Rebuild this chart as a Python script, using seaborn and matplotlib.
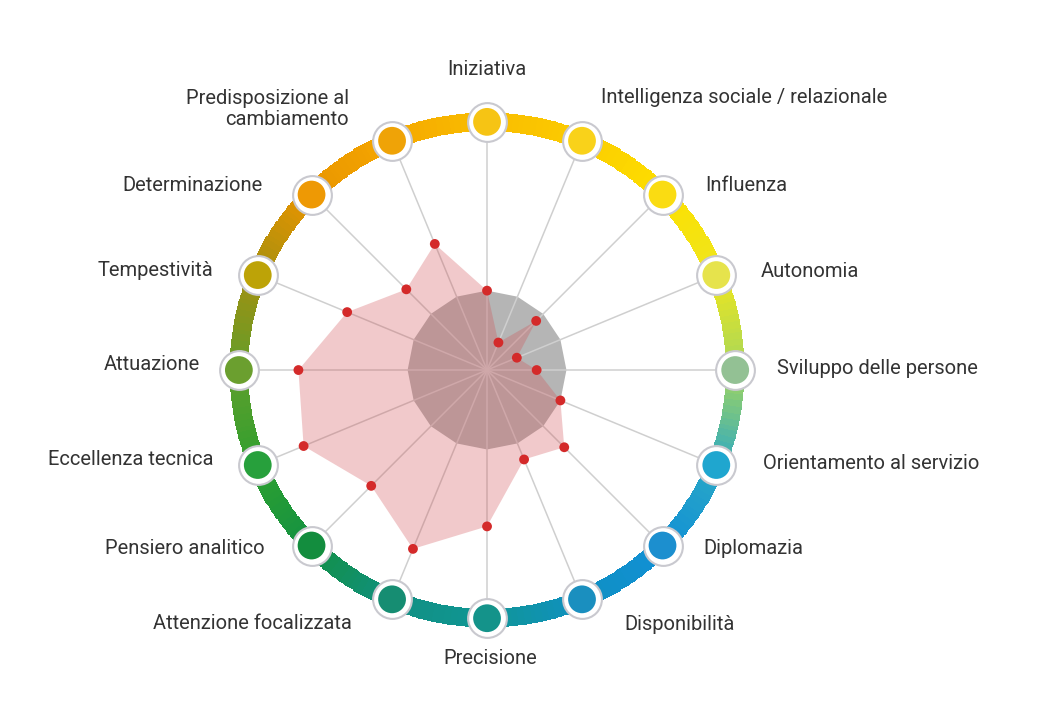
import numpy as np
import seaborn as sns
import matplotlib.pyplot as plt
from matplotlib.colors import LinearSegmentedColormap

# competences, clockwise from the top
categories = ["Iniziativa", "Intelligenza sociale / relazionale", "Influenza", "Autonomia",
              "Sviluppo delle persone", "Orientamento al servizio", "Diplomazia", "Disponibilità",
              "Precisione", "Attenzione focalizzata", "Pensiero analitico", "Eccellenza tecnica",
              "Attuazione", "Tempestività", "Determinazione", "Predisposizione al\ncambiamento"]
scores = [32, 12, 28, 13, 20, 32, 44, 39, 63, 78, 66, 80, 76, 61, 46, 55]
baseline = [32] * 16
marker_colors = ["#f6c414", "#f9d21a", "#fadc12", "#e6e34c", "#93c194", "#1fa6cf",
                 "#1c8fcf", "#1a8fbf", "#14938a", "#168d72", "#138d3e", "#27a03c",
                 "#6b9f2f", "#bda307", "#ee9904", "#efa307"]
ring_colors = ["#f9bd00", "#fccd00", "#fde000", "#eee61e", "#a5d65c", "#2aa8c6",
               "#1190d6", "#1090c2", "#109696", "#119081", "#129044", "#2ea02f",
               "#5f9e2c", "#a29010", "#e89400", "#f5a600", "#f9bd00"]

# label offsets in pixels from each marker
offsets = [(0, 52, "center"), (19, 43, "left"), (43, 9, "left"), (44, 4, "left"),
           (42, 2, "left"), (47, 2, "left"), (41, -3, "left"), (42, -25, "left"),
           (3, -40, "center"), (-40, -24, "right"), (-47, -3, "right"), (-44, 6, "right"),
           (-39, 6, "right"), (-44, 5, "right"), (-49, 9, "right"), (-43, 32, "right")]

sns.set_theme(style="white")
plt.rcParams['font.family'] = ['Roboto', 'DejaVu Sans']

n = len(categories)
theta = np.arange(n) * 2 * np.pi / n

fig = plt.figure(figsize=(10.4, 7.2), dpi=100)
ax = fig.add_axes([0.2058, 0.1069, 0.525, 0.7583], projection="polar")
ax.set_theta_zero_location("N")
ax.set_theta_direction(-1)
ax.set_ylim(0, 110)
ax.axis("off")

# gradient ring
cmap = LinearSegmentedColormap.from_list("ring", ring_colors)
t_edges = np.linspace(0, 2 * np.pi, 721)
r_edges = np.array([96.3, 103.7])
C = np.linspace(0, 1, 720).reshape(1, -1)
ax.pcolormesh(t_edges, r_edges, C, cmap=cmap, shading="flat", zorder=1)

# gray reference area
tc = np.append(theta, theta[0])
ax.fill(tc, np.append(baseline, baseline[0]), color="#b5b5b5", lw=0, zorder=2)

# spokes
for t in theta:
    ax.plot([t, t], [0, 100], color="#cfcfcf", lw=1.1, zorder=3)

# score area
ax.fill(tc, np.append(scores, scores[0]), color=(0.82, 0.31, 0.33), alpha=0.3, lw=0, zorder=4)
sns.scatterplot(x=theta, y=scores, ax=ax, color="#d42a2a", s=50, edgecolor="none", zorder=5)

# markers on the ring
ax.scatter(theta, [100] * n, s=780, color="white", edgecolor="#c9c9cf", linewidth=1.5, zorder=6)
ax.scatter(theta, [100] * n, s=400, c=marker_colors, edgecolor="none", zorder=7)

for t, lab, (dx, dy, ha) in zip(theta, categories, offsets):
    ax.annotate(lab, xy=(t, 100), xytext=(dx, dy), textcoords="offset pixels",
                ha=ha, va="center", fontsize=14.5, color="#333333", linespacing=1.1,
                multialignment="right" if ha == "right" else "left", zorder=8,
                annotation_clip=False)

fig.savefig("out.png", dpi=100, facecolor="white")
